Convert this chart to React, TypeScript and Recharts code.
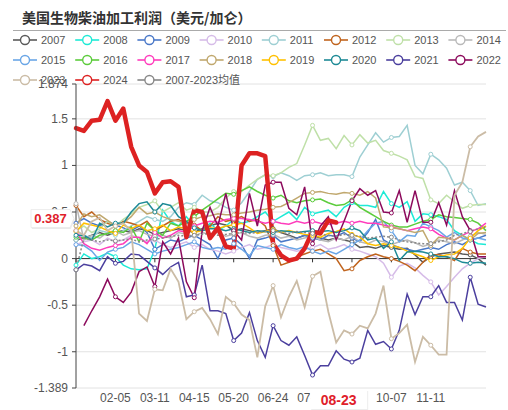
import React from 'react';
import { LineChart, Line, XAxis, YAxis, CartesianGrid, ReferenceLine } from 'recharts';

const DATES = [
  '01-01', '01-08', '01-15', '01-22', '01-29', '02-05', '02-12', '02-19', '02-26', '03-04',
  '03-11', '03-18', '03-25', '04-01', '04-08', '04-15', '04-22', '04-29', '05-06', '05-13',
  '05-20', '05-27', '06-03', '06-10', '06-17', '06-24', '07-01', '07-08', '07-15', '07-22',
  '07-29', '08-05', '08-12', '08-23', '08-26', '09-02', '09-09', '09-16', '09-23', '09-30',
  '10-07', '10-14', '10-21', '10-28', '11-04', '11-11', '11-18', '11-25', '12-02', '12-09',
  '12-16', '12-23', '12-30',
];

const X_TICK_LABELS = ['02-05', '03-11', '04-15', '05-20', '06-24', '07-29', '10-07', '11-11'];
const ZERO_AXIS_TICKS = ['01-01', '02-05', '03-11', '04-15', '05-20', '06-24', '07-29', '09-02', '10-07', '11-11', '12-16'];
const Y_TICKS = [-1.389, -1, -0.5, 0, 0.5, 1, 1.5, 1.874];
const POINTER_DATE = '08-23';
const POINTER_VALUE = 0.387;

const S2007 = [0.20,0.22,0.25,0.28,0.25,0.28,0.30,0.28,0.32,0.30, 0.26,0.28,0.30,0.32,0.30,0.28,0.32,0.35,0.38,0.36, 0.30,0.32,0.30,0.28,0.30,0.32,0.28,0.25,0.22,0.25, 0.24,0.22,0.20,0.22,0.20,0.18,0.12,0.13,0.11,0.14, 0.12,0.10,0.11,0.04,-0.04,0.02,0.05,0.06,0.07,0.05, 0.04,0.00,-0.07];
const S2008 = [-0.07,0.05,0.00,0.02,0.06,0.02,-0.07,-0.11,-0.12,-0.11, 0.10,0.52,0.40,0.35,0.45,0.35,0.30,0.38,0.30,0.35, 0.42,0.38,0.40,0.45,0.50,0.40,0.45,0.50,0.42,0.55, 0.48,0.50,0.52,0.45,0.55,0.60,0.57,0.57,0.55,0.72, 0.59,0.55,0.61,0.40,0.48,0.47,0.45,0.42,0.30,0.25, 0.20,0.16,0.15];
const S2009 = [0.38,0.43,0.38,0.35,0.40,0.36,0.33,0.30,0.35,0.28, 0.10,0.15,0.20,0.18,0.22,0.25,0.20,0.15,0.00,0.20, 0.22,0.15,0.00,0.20,0.22,0.25,0.18,0.20,0.22,0.25, 0.22,0.20,0.25,0.24,0.28,0.22,0.18,0.28,0.42,0.20, 0.15,0.12,0.10,0.08,0.10,0.12,0.10,0.15,0.18,0.15, 0.20,0.22,0.25];
const S2010 = [0.15,0.18,0.20,0.15,0.22,0.18,0.20,0.25,0.22,0.18, 0.20,0.15,0.12,0.15,0.18,0.12,0.15,0.10,0.08,0.05, 0.08,0.12,0.15,0.10,0.12,0.15,0.12,0.10,0.08,0.10, 0.12,0.15,0.10,0.12,0.15,0.10,0.08,0.05,0.02,-0.05, -0.20,-0.08,-0.05,-0.10,-0.18,-0.25,-0.39,-0.30,-0.20,-0.11, -0.05,0.00,0.02];
const S2011 = [0.20,0.25,0.22,0.30,0.28,0.25,0.30,0.35,0.40,0.45, 0.42,0.40,0.45,0.55,0.60,0.58,0.68,0.62,0.60,0.55, 0.52,0.60,0.72,0.85,0.90,0.88,0.92,0.89,0.84,0.89, 0.90,0.92,0.89,0.90,0.90,0.88,1.09,1.22,1.35,1.25, 1.30,1.31,1.43,1.00,0.91,1.12,1.06,0.97,0.79,0.82, 0.73,0.57,0.59];
const S2012 = [0.57,0.45,0.50,0.42,0.38,0.35,0.40,0.38,0.35,0.40, 0.30,0.35,0.40,0.42,0.38,0.36,0.30,0.35,0.45,0.40, 0.42,0.45,0.40,0.42,0.35,0.14,-0.07,-0.04,0.02,0.05, 0.08,0.10,0.05,0.00,-0.13,-0.11,-0.02,0.02,0.05,0.02, 0.00,-0.03,-0.07,-0.13,-0.04,0.04,0.04,0.02,-0.02,0.11, 0.07,0.05,0.05];
const S2013 = [0.30,0.35,0.28,0.32,0.40,0.35,0.42,0.48,0.55,0.58, 0.62,0.50,0.55,0.60,0.52,0.55,0.50,0.50,0.55,0.65, 0.72,0.72,0.79,0.85,0.90,0.89,0.92,0.98,1.02,1.22, 1.43,1.27,1.29,1.18,1.32,1.22,1.33,1.24,1.27,1.16, 1.13,1.10,1.06,0.88,0.86,0.63,0.59,0.68,0.61,0.54, 0.57,0.58,0.58];
const S2014 = [0.59,0.20,0.25,0.22,0.28,0.30,0.25,0.28,0.30,0.26, 0.24,0.25,0.22,0.28,0.26,0.24,0.28,0.26,0.28,0.24, 0.26,0.28,0.24,0.22,0.25,0.26,0.22,0.24,0.20,0.22, 0.24,0.20,0.18,0.22,0.20,0.24,0.18,0.16,0.20,0.18, 0.15,0.18,0.20,0.17,0.13,0.16,0.20,0.18,0.16,0.20, 0.24,0.28,0.26];
const S2015 = [0.15,0.14,0.08,-0.02,0.07,0.10,0.12,0.18,0.15,0.10, 0.05,0.08,0.10,0.12,0.15,0.18,0.12,0.10,0.12,0.10, 0.16,0.10,0.03,0.14,0.12,0.10,0.15,0.12,0.10,0.13, 0.08,0.05,0.08,0.05,0.10,0.15,0.20,0.30,0.38,0.40, 0.30,0.18,0.25,0.24,0.38,0.34,0.30,0.23,0.28,0.22, 0.20,0.22,0.20];
const S2016 = [0.23,0.22,0.20,0.25,0.27,0.30,0.28,0.34,0.18,0.38, 0.30,0.25,0.38,0.35,0.40,0.45,0.52,0.58,0.64,0.70, 0.69,0.73,0.77,0.72,0.68,0.65,0.68,0.62,0.60,0.62, 0.63,0.64,0.60,0.57,0.58,0.63,0.55,0.50,0.45,0.40, 0.36,0.34,0.34,0.37,0.40,0.42,0.47,0.45,0.44,0.43, 0.42,0.38,0.30];
const S2017 = [0.30,0.16,0.11,0.09,0.12,0.14,0.16,0.23,0.23,0.16, 0.28,0.22,0.25,0.30,0.28,0.35,0.38,0.40,0.39,0.42, 0.43,0.43,0.42,0.40,0.38,0.40,0.38,0.37,0.40,0.38, 0.40,0.38,0.37,0.38,0.40,0.38,0.40,0.38,0.38,0.36, 0.34,0.32,0.30,0.32,0.34,0.32,0.26,0.22,0.20,0.25, 0.29,0.32,0.38];
const S2018 = [0.35,0.48,0.45,0.47,0.41,0.35,0.38,0.45,0.55,0.48, 0.50,0.45,0.42,0.40,0.38,0.42,0.45,0.46,0.48,0.47, 0.47,0.49,0.50,0.52,0.53,0.55,0.56,0.60,0.65,0.70, 0.71,0.72,0.70,0.69,0.71,0.70,0.68,0.72,0.65,0.34, 0.33,0.32,0.30,0.28,0.30,0.14,0.23,0.22,0.20,0.25, 0.20,0.27,0.28];
const S2019 = [0.29,0.38,0.36,0.34,0.30,0.27,0.36,0.32,0.36,0.30, 0.32,0.36,0.30,0.34,0.32,0.28,0.30,0.33,0.32,0.35, 0.36,0.38,0.33,0.27,0.29,0.31,0.28,0.30,0.28,0.26, 0.25,0.23,0.27,0.29,0.32,0.26,0.23,0.16,0.14,0.16, 0.14,0.12,0.08,0.05,0.02,-0.02,0.02,0.04,0.05,0.11, 0.22,0.30,0.35];
const S2020 = [0.25,0.25,0.20,0.38,0.34,0.38,0.38,0.50,0.59,0.61, 0.50,0.59,0.57,0.45,0.40,0.33,0.30,0.32,0.32,0.30, 0.32,0.30,0.28,0.30,0.29,0.28,0.30,0.29,0.28,0.29, 0.30,0.29,0.30,0.28,0.30,0.33,0.30,0.20,0.22,0.11, 0.18,-0.02,0.07,0.08,0.07,0.05,0.02,0.02,0.00,-0.04, -0.05,-0.04,-0.05];
const S2021 = [-0.12,-0.06,-0.08,-0.13,0.02,-0.05,-0.03,0.05,0.04,-0.03, -0.10,-0.17,-0.09,-0.04,-0.41,-0.39,-0.07,-0.56,-0.56,-0.59, -0.88,-0.80,-0.58,-0.88,-1.06,-0.72,-0.88,-0.93,-0.84,-1.04, -1.25,-1.15,-1.15,-0.99,-1.08,-1.11,-1.07,-0.77,-0.92,-0.89, -0.97,-0.77,-0.38,-0.60,-0.41,-0.41,-0.29,-0.47,-0.47,-0.66, -0.20,-0.49,-0.52];
const S2022 = [null,-0.72,-0.56,-0.41,-0.22,-0.41,-0.47,-0.36,-0.14,-0.09, -0.30,0.18,0.05,0.22,-0.25,-0.42,0.30,0.55,0.35,0.70, 0.30,0.20,0.70,0.35,0.79,0.82,0.82,0.54,0.47,0.77, 0.16,0.35,0.45,0.20,0.40,0.62,0.75,0.68,0.73,0.50, 0.49,0.73,0.39,0.73,0.39,0.39,0.60,0.36,0.73,0.45, 0.30,0.02,0.02];
const S2023 = [0.30,0.25,0.40,0.44,0.30,0.35,0.38,0.30,-0.59,-0.67, -0.33,-0.34,-0.11,-0.25,-0.65,-0.57,-0.53,-0.65,-0.81,-0.41, -0.48,-0.60,-0.66,-1.06,-0.51,-0.29,-0.63,-0.41,-0.24,-0.52, -0.19,-0.14,-0.57,-0.90,-0.77,-0.81,-0.72,-0.75,-0.59,-0.29, -0.86,-0.80,-0.71,-1.11,-0.84,-0.93,-1.03,-1.03,0.68,0.82, 1.20,1.31,1.36];
const S2024 = [1.40,1.37,1.48,1.49,1.69,1.48,1.61,1.20,1.00,0.93, 0.70,0.82,0.83,0.77,0.23,0.52,0.50,0.22,0.33,0.13, 0.11,1.00,1.13,1.13,1.10,0.16,0.035,-0.02,0.00,0.11, 0.29,0.27,0.41,0.387, null,null,null,null,null,null, null,null,null,null,null,null,null,null,null,null, null,null,null];
const SAVG = [-0.12,0.22,0.20,0.18,0.20,0.19,0.20,0.21,0.18,0.20, 0.21,0.22,0.24,0.25,0.24,0.25,0.26,0.27,0.25,0.26, 0.27,0.28,0.27,0.28,0.29,0.30,0.28,0.27,0.29,0.28, 0.27,0.26,0.25,0.24,0.26,0.25,0.24,0.22,0.23,0.24, 0.23,0.20,0.18,0.17,0.16,0.16,0.18,0.20,0.25,0.27, 0.29,0.32,0.34];

const SERIES_NAMES = ['2007','2008','2009','2010','2011','2012','2013','2014','2015','2016','2017','2018','2019','2020','2021','2022','2023','2024','2007-2023均值'];
const SERIES_COLORS = ['#5a5a5a','#1eead6','#4a78c8','#d6bce8','#9ecfd3','#c0641e','#bfe0a8','#b9b9b9','#6aa6e6','#5ccc3c','#ff3cbc','#c0a86e','#ffc000','#1d8a96','#4b3f9e','#8c0a5c','#cbbca6','#dd2222','#888888'];
const SERIES_VALUES = [S2007,S2008,S2009,S2010,S2011,S2012,S2013,S2014,S2015,S2016,S2017,S2018,S2019,S2020,S2021,S2022,S2023,S2024,SAVG];

const SERIES = SERIES_NAMES.map((name, i) => ({ key: 's' + i, name, color: SERIES_COLORS[i], values: SERIES_VALUES[i] }));

const DATA = DATES.map((date, j) => {
  const row: Record<string, any> = { date };
  SERIES.forEach((s) => { row[s.key] = s.values[j]; });
  return row;
});

const makeDot = (color: string) => (props: any) => {
  const { cx, cy, index, value } = props;
  if (index % 5 !== 0 || value == null || cx == null || cy == null || Number.isNaN(cy)) {
    return <g key={'d' + index} />;
  }
  return <circle key={'d' + index} cx={cx} cy={cy} r={2} fill="#fff" stroke={color} strokeWidth={1} />;
};

function XTick(props: any) {
  const { x, y, payload } = props;
  if (payload.value === POINTER_DATE) {
    return (
      <g>
        <rect x={x - 25} y={y + 3} width={57} height={19} fill="#000" opacity={0.07} />
        <rect x={x - 26} y={y + 2} width={57} height={19} fill="#fff" />
        <text x={x + 2.5} y={y} dy={16.5} textAnchor="middle" fill="#e0202a" fontWeight="bold" fontSize={14}>{payload.value}</text>
      </g>
    );
  }
  return <text x={x} y={y} dy={14} textAnchor="middle" fill="#555" fontSize={12}>{payload.value}</text>;
}

function YTick(props: any) {
  const { x, y, payload } = props;
  const v = payload.value;
  if (v === POINTER_VALUE) {
    const cy = y - 4;
    const left = x - 45;
    const right = x - 6;
    const d = `M${left},${cy - 9} H${right} L${right + 4},${cy} L${right},${cy + 9} H${left} Z`;
    return (
      <g>
        <path d={d} fill="#000" opacity={0.08} transform="translate(0.8,1.5)" />
        <path d={d} fill="#fff" stroke="#e8e8e8" strokeWidth={0.8} />
        <text x={(left + right) / 2} y={cy} dy={4.6} textAnchor="middle" fill="#e0202a" fontWeight="bold" fontSize={13}>{String(v)}</text>
      </g>
    );
  }
  return (
    <g>
      <line x1={x - 4} x2={x} y1={y} y2={y} stroke="#444" />
      <text x={x - 8} y={y} dy={4} textAnchor="end" fill="#555" fontSize={12}>{String(v)}</text>
    </g>
  );
}

function LegendBlock() {
  const perRow = 8;
  const colW = 62.2;
  return (
    <svg width={508} height={92} style={{ position: 'absolute', left: 0, top: 0, pointerEvents: 'none' }}>
      {SERIES.map((s, i) => {
        const col = i % perRow;
        const row = Math.floor(i / perRow);
        const x0 = 13 + col * colW;
        const cy = 40 + row * 20;
        return (
          <g key={s.key}>
            <line x1={x0} x2={x0 + 24} y1={cy} y2={cy} stroke={s.color} strokeWidth={1.6} />
            <circle cx={x0 + 12} cy={cy} r={4.5} fill="#fff" stroke={s.color} strokeWidth={1.4} />
            <text x={x0 + 28} y={cy} dy={4} fill="#555" fontSize={11}>{s.name}</text>
          </g>
        );
      })}
    </svg>
  );
}

export default function App() {
  return (
    <div style={{ position: 'absolute', left: 0, top: 0, width: 508, height: 410, background: '#fff', fontFamily: '"Liberation Sans", Arial, "Noto Sans CJK SC", sans-serif' }}>
      <LineChart width={508} height={410} data={DATA} margin={{ top: 84, right: 22, bottom: 0, left: 0 }}>
        <CartesianGrid vertical={false} stroke="#e2e2e2" horizontalValues={Y_TICKS} />
        <XAxis
          dataKey="date"
          ticks={[...X_TICK_LABELS, POINTER_DATE]}
          interval={0}
          axisLine={false}
          tickLine={false}
          tickSize={0}
          tickMargin={0}
          height={22}
          tick={<XTick />}
        />
        <YAxis
          type="number"
          domain={[Y_TICKS[0], Y_TICKS[Y_TICKS.length - 1]]}
          ticks={[...Y_TICKS, POINTER_VALUE]}
          interval={0}
          width={76}
          axisLine={{ stroke: '#444' }}
          tickLine={false}
          tickSize={0}
          tickMargin={0}
          allowDataOverflow
          tick={<YTick />}
        />
        <ReferenceLine y={0} stroke="#333" strokeWidth={1} />
        {ZERO_AXIS_TICKS.map((d) => (
          <ReferenceLine key={'t' + d} segment={[{ x: d, y: 0 }, { x: d, y: -0.04 }]} stroke="#333" />
        ))}
        {SERIES.filter((s) => s.name !== '2024').map((s) => (
          <Line
            key={s.key}
            type="linear"
            dataKey={s.key}
            name={s.name}
            stroke={s.color}
            strokeWidth={s.name === '2023' ? 1.8 : 1.5}
            strokeDasharray={s.name.includes('均值') ? '2 2' : undefined}
            dot={makeDot(s.color)}
            activeDot={false}
            isAnimationActive={false}
          />
        ))}
        {SERIES.filter((s) => s.name === '2024').map((s) => (
          <Line
            key={s.key}
            type="linear"
            dataKey={s.key}
            name={s.name}
            stroke={s.color}
            strokeWidth={4.5}
            strokeLinejoin="round"
            strokeLinecap="round"
            dot={false}
            activeDot={false}
            isAnimationActive={false}
          />
        ))}
      </LineChart>
      <div style={{ position: 'absolute', left: 22, top: 8, fontSize: 14, lineHeight: '18px', fontWeight: 700, color: '#333', fontFamily: '"Noto Sans CJK SC", sans-serif', whiteSpace: 'nowrap' }}>
        美国生物柴油加工利润（美元/加仑）
      </div>
      <div style={{ position: 'absolute', left: 13, top: 30, width: 493, height: 1, background: '#aaa' }} />
      <LegendBlock />
    </div>
  );
}
